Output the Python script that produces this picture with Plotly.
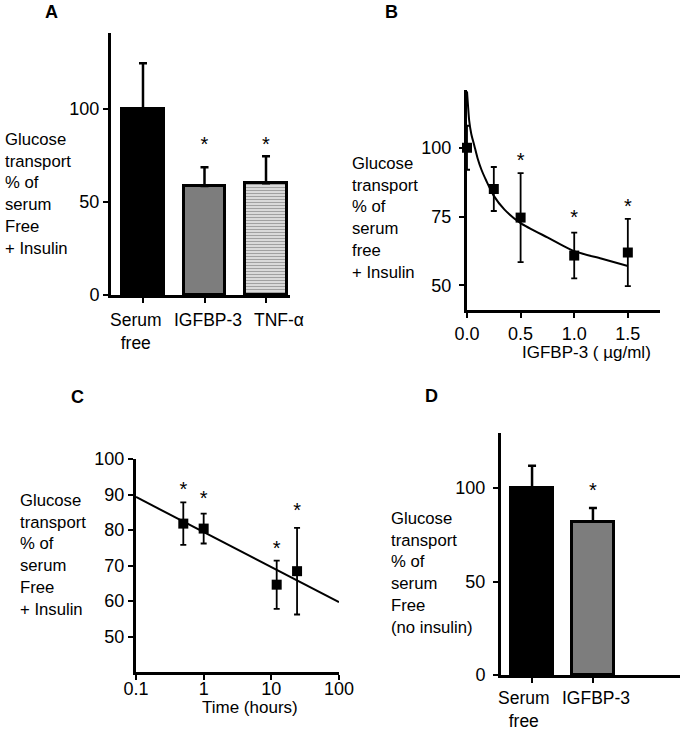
import plotly.graph_objects as go

W, H = 680, 730
FONT = "Liberation Sans, Arial, sans-serif"

# ---------------- data ----------------
# Panel A
a_cats = ["Serum<br>free", "IGFBP-3", "TNF-α"]
a_vals = [100, 58.6, 60.2]
a_err = [24.7, 10.2, 14.5]
a_star_cats = ["IGFBP-3", "TNF-α"]
a_star_y = [80, 80]

# Panel B
b_x = [0.0, 0.25, 0.5, 1.0, 1.5]
b_y = [100, 85, 74.6, 60.8, 61.9]
b_err = [8, 8, 16.2, 8.3, 12.2]
b_star_x = [0.5, 1.0, 1.5]
b_star_y = [95, 74, 78]
b_fit_x = [0.0, 0.01, 0.02, 0.04, 0.07, 0.1, 0.135, 0.18, 0.25, 0.35, 0.5, 0.75, 1.0, 1.25, 1.5]
b_fit_y = [120.5, 115, 110, 105, 100.5, 96, 92, 88, 82.5, 77.5, 72.6, 67.4, 62.4, 59.7, 57]
b_ticks = [0.0, 0.5, 1.0, 1.5]
b_ticktext = ["0.0", "0.5", "1.0", "1.5"]

# Panel C
c_x = [0.5, 1, 12, 24]
c_y = [81.8, 80.4, 64.6, 68.4]
c_err = [6, 4.2, 6.8, 12.2]
c_star_y = [91, 88.5, 74.5, 85]
c_fit_x = [0.1, 100]
c_fit_y = [89.3, 59.7]
c_xticks = [0.1, 1, 10, 100]
c_xticktext = ["0.1", "1", "10", "100"]

# Panel D
d_cats = ["Serum<br>free", "IGFBP-3"]
d_vals = [100, 82.1]
d_err = [12, 7.2]
d_star_cats = ["IGFBP-3"]
d_star_y = [98]

ylabel_plus = "Glucose<br>transport<br>% of<br>serum<br>Free<br>+ Insulin"
ylabel_b = "Glucose<br>transport<br>% of<br>serum<br>free<br>+ Insulin"
ylabel_d = "Glucose<br>transport<br>% of<br>serum<br>Free<br>(no insulin)"

# horizontal nudges (px) of the category labels, as in the original figure
a_label_shift = [-7, 3, 13]
d_label_shift = [-8, 3]


def px(x):
    return x / W


def py(y):
    return 1 - y / H


fig = go.Figure()

bar_line = dict(color="black", width=3)

# ---- Panel A ----
fig.add_trace(go.Bar(
    x=a_cats, y=a_vals, width=0.68, xaxis="x", yaxis="y",
    marker=dict(
        color=["black", "#7d7d7d", "white"],
        line=bar_line,
        pattern=dict(shape=["", "", "-"], fgcolor="black", bgcolor="white",
                     size=3, solidity=0.6, fillmode="overlay"),
    ),
    error_y=dict(type="data", array=a_err, arrayminus=[0] * len(a_err), symmetric=False,
                 color="black", thickness=2.5, width=4),
    showlegend=False,
))
fig.add_trace(go.Scatter(
    x=a_star_cats, y=a_star_y, mode="text", text=["*"] * len(a_star_cats),
    textfont=dict(size=20, color="black", family=FONT), xaxis="x", yaxis="y",
    showlegend=False, cliponaxis=False,
))

# ---- Panel B ----
fig.add_trace(go.Scatter(
    x=b_fit_x, y=b_fit_y, mode="lines", line=dict(color="black", width=2, shape="spline", smoothing=0.6),
    xaxis="x2", yaxis="y2", showlegend=False, cliponaxis=False,
))
fig.add_trace(go.Scatter(
    x=b_x, y=b_y, mode="markers", marker=dict(symbol="square", size=10, color="black"),
    error_y=dict(type="data", array=b_err, color="black", thickness=1.8, width=3),
    xaxis="x2", yaxis="y2", showlegend=False, cliponaxis=False,
))
fig.add_trace(go.Scatter(
    x=b_star_x, y=b_star_y, mode="text", text=["*"] * len(b_star_x),
    textfont=dict(size=20, color="black", family=FONT), xaxis="x2", yaxis="y2",
    showlegend=False, cliponaxis=False,
))

# ---- Panel C ----
fig.add_trace(go.Scatter(
    x=c_fit_x, y=c_fit_y, mode="lines", line=dict(color="black", width=2),
    xaxis="x3", yaxis="y3", showlegend=False, cliponaxis=False,
))
fig.add_trace(go.Scatter(
    x=c_x, y=c_y, mode="markers", marker=dict(symbol="square", size=10, color="black"),
    error_y=dict(type="data", array=c_err, color="black", thickness=1.8, width=3),
    xaxis="x3", yaxis="y3", showlegend=False, cliponaxis=False,
))
fig.add_trace(go.Scatter(
    x=c_x, y=c_star_y, mode="text", text=["*"] * len(c_x),
    textfont=dict(size=20, color="black", family=FONT), xaxis="x3", yaxis="y3",
    showlegend=False, cliponaxis=False,
))

# ---- Panel D ----
fig.add_trace(go.Bar(
    x=d_cats, y=d_vals, width=0.68, xaxis="x4", yaxis="y4",
    marker=dict(color=["black", "#7d7d7d"], line=bar_line),
    error_y=dict(type="data", array=d_err, arrayminus=[0] * len(d_err), symmetric=False,
                 color="black", thickness=2.5, width=4),
    showlegend=False,
))
fig.add_trace(go.Scatter(
    x=d_star_cats, y=d_star_y, mode="text", text=["*"] * len(d_star_cats),
    textfont=dict(size=20, color="black", family=FONT), xaxis="x4", yaxis="y4",
    showlegend=False, cliponaxis=False,
))

axis_common = dict(showline=True, linecolor="black", linewidth=3, showgrid=False, zeroline=False,
                   ticks="outside", tickcolor="black", tickwidth=2, ticklen=5, automargin=False,
                   tickangle=0,
                   tickfont=dict(family=FONT, size=18, color="black"))

fig.update_layout(
    width=W, height=H,
    margin=dict(l=0, r=0, t=0, b=0, autoexpand=False),
    paper_bgcolor="white", plot_bgcolor="white",
    font=dict(family=FONT, color="black"),
    bargap=0,
    xaxis=dict(domain=[px(111), px(290)], anchor="y", type="category", range=[-0.52, 2.39],
               showticklabels=False, **axis_common),
    yaxis=dict(domain=[py(295), py(33)], anchor="x", range=[0, 141], tickvals=[0, 50, 100],
               **axis_common),
    xaxis2=dict(domain=[px(467), px(660)], anchor="y2", range=[0, 1.8], tickvals=b_ticks,
                ticktext=b_ticktext, **axis_common),
    yaxis2=dict(domain=[py(310), py(90)], anchor="x2", range=[41, 121], tickvals=[50, 75, 100],
                ticklabelstandoff=4, **axis_common),
    xaxis3=dict(domain=[px(136), px(339)], anchor="y3", type="log", range=[-1, 2],
                tickvals=c_xticks, ticktext=c_xticktext, ticklabelstandoff=-7, **axis_common),
    yaxis3=dict(domain=[py(672), py(459)], anchor="x3", range=[40, 100],
                tickvals=[50, 60, 70, 80, 90, 100], **axis_common),
    xaxis4=dict(domain=[px(501), px(680)], anchor="y4", type="category", range=[-0.51, 2.43],
                showticklabels=False, **axis_common),
    yaxis4=dict(domain=[py(675), py(433)], anchor="x4", range=[0, 129.5], tickvals=[0, 50, 100],
                ticklabelstandoff=4, **axis_common),
)

ann = []
# category labels under the bar panels
for cats, shifts, xr, yr, ys in [(a_cats, a_label_shift, "x", "y", -13), (d_cats, d_label_shift, "x4", "y4", -11)]:
    for c, s in zip(cats, shifts):
        ann.append(dict(x=c, y=0, xref=xr, yref=yr, text=c, showarrow=False,
                        xanchor="center", yanchor="top", xshift=s, yshift=ys, align="center",
                        font=dict(family=FONT, size=17.5, color="black")))
# y-axis label blocks
for x0, yc, txt in [(3, 194, ylabel_plus), (350, 218, ylabel_b), (18, 555, ylabel_plus), (389, 573, ylabel_d)]:
    ann.append(dict(x=px(x0), y=py(yc), xref="paper", yref="paper", text=txt, showarrow=False,
                    xanchor="left", yanchor="middle", align="left",
                    font=dict(family=FONT, size=16.7, color="black")))
# panel letters
for x0, yc, txt in [(51, 12, "A"), (392, 12, "B"), (77, 397, "C"), (431, 396, "D")]:
    ann.append(dict(x=px(x0), y=py(yc), xref="paper", yref="paper", text="<b>%s</b>" % txt,
                    showarrow=False, xanchor="center", yanchor="middle",
                    font=dict(family=FONT, size=18, color="black")))
# x-axis titles
ann.append(dict(x=px(586), y=py(352), xref="paper", yref="paper", text="IGFBP-3 ( µg/ml)",
                showarrow=False, xanchor="center", yanchor="middle",
                font=dict(family=FONT, size=17, color="black")))
ann.append(dict(x=px(250), y=py(707), xref="paper", yref="paper", text="Time (hours)",
                showarrow=False, xanchor="center", yanchor="middle",
                font=dict(family=FONT, size=17, color="black")))
fig.update_layout(annotations=ann)

fig.write_html("out.html", config={"displayModeBar": False},
               post_script="document.body.style.margin='0';")
